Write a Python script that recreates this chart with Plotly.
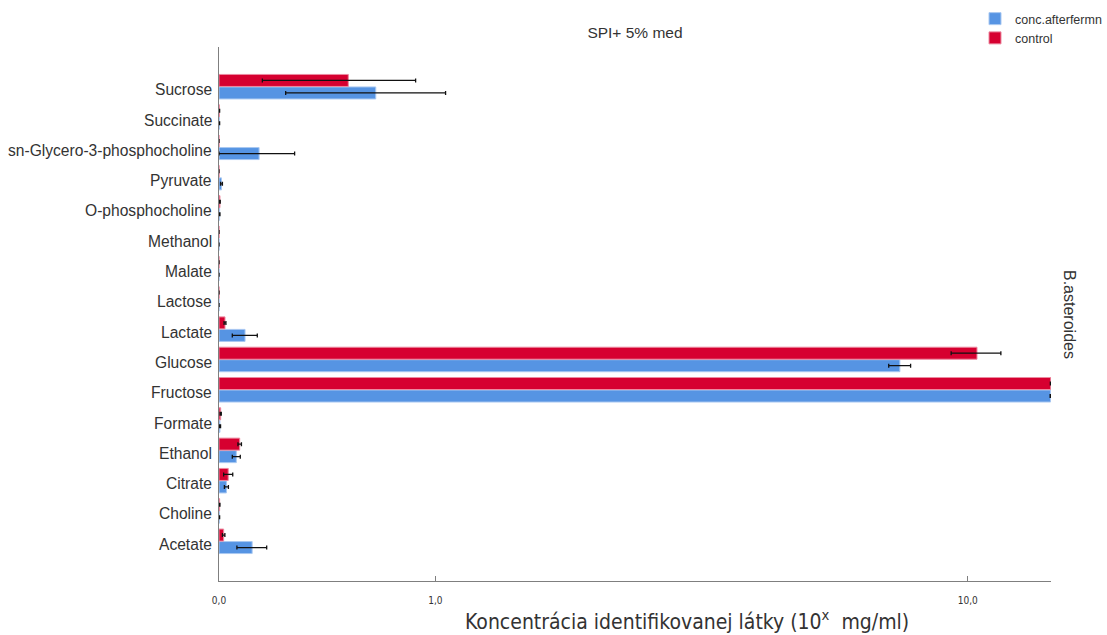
import math
import plotly.graph_objects as go

# Categories listed bottom -> top
categories = ["Acetate", "Choline", "Citrate", "Ethanol", "Formate", "Fructose",
              "Glucose", "Lactate", "Lactose", "Malate", "Methanol",
              "O-phosphocholine", "Pyruvate", "sn-Glycero-3-phosphocholine",
              "Succinate", "Sucrose"]

conc_after = [0.112, 0.001, 0.024, 0.057, 0.003, 13.34,
              7.85, 0.087, 0.0, 0.0, 0.0,
              0.002, 0.008, 0.137, 0.001, 0.652]
conc_after_err = [0.053, 0.001, 0.0066, 0.0135, 0.002, 0.02,
                  0.31, 0.0435, 0.0, 0.0, 0.0,
                  0.001, 0.003, 0.137, 0.001, 0.414]

control = [0.015, 0.002, 0.030, 0.0685, 0.0054, 13.35,
           10.33, 0.0194, 0.0, 0.0, 0.0,
           0.003, 0.0, 0.0, 0.001, 0.513]
control_err = [0.004, 0.001, 0.015, 0.006, 0.002, 0.02,
               0.9, 0.003, 0.0, 0.0, 0.0,
               0.001, 0.0, 0.0, 0.001, 0.364]

tick_values = [0.0, 1.0, 10.0]
tick_labels = ["0,0", "1,0", "10,0"]
x_max_value = 13.36


def tr(v):
    return math.log10(v + 1.0)


def errs(vals, es):
    plus, minus = [], []
    for v, e in zip(vals, es):
        plus.append(tr(v + e) - tr(v))
        minus.append(tr(v) - tr(max(v - e, 0.0)))
    return plus, minus


blue = "#5694E3"
red = "#D60030"

# plot area in page pixels
L, R, T, B = 219, 1051, 47, 581
W, H = 1107, 635


def px_x(p):
    return (p - L) / (R - L)


def px_y(p):
    return (B - p) / (B - T)


fig = go.Figure()
for name, vals, es, col, lcol in [
    ("conc.afterfermn", conc_after, conc_after_err, blue, "#A9C8F1"),
    ("control", control, control_err, red, "#EC8AA0"),
]:
    plus, minus = errs(vals, es)
    fig.add_trace(go.Bar(
        name=name,
        y=categories,
        x=[tr(v) for v in vals],
        orientation="h",
        marker=dict(color=col, line=dict(color=lcol, width=1)),
        error_x=dict(type="data", array=plus, arrayminus=minus, symmetric=False,
                     color="#111111", thickness=1.3, width=2),
    ))

fig.update_layout(
    width=W, height=635,
    margin=dict(l=L, r=W - R, t=T, b=H - B, autoexpand=False),
    paper_bgcolor="white", plot_bgcolor="white",
    barmode="group", bargap=0.175, bargroupgap=0.04,
    font=dict(family="Liberation Sans, Arial, sans-serif", color="#333333"),
    title=dict(text="SPI+ 5% med", x=(L + R) / 2 / W, xanchor="center",
               y=1 - 33 / H, yanchor="middle",
               font=dict(size=15.5, color="#333333")),
    showlegend=True,
    legend=dict(x=px_x(975), xanchor="left", y=px_y(4), yanchor="top",
                font=dict(size=12.5, color="#333333"), tracegroupgap=0,
                itemwidth=30, traceorder="normal", bgcolor="rgba(0,0,0,0)"),
)

fig.update_xaxes(
    range=[0, tr(x_max_value)],
    tickvals=[tr(v) for v in tick_values], ticktext=tick_labels,
    showgrid=False, zeroline=False,
    showline=True, linecolor="#7f7f7f", linewidth=1,
    ticks="inside", ticklen=5, tickcolor="#7f7f7f",
    ticklabelstandoff=10,
    tickfont=dict(family="Liberation Sans Narrow, DejaVu Sans Condensed, sans-serif",
                  size=10, color="#333333"),
)
fig.update_yaxes(
    type="category", categoryorder="array", categoryarray=categories,
    range=[-1.31, len(categories) - 1 + 1.31],
    showgrid=False, zeroline=False,
    showline=True, linecolor="#7f7f7f", linewidth=1,
    ticks="", showticklabels=False,
)

for c in categories:
    fig.add_annotation(
        text=c, xref="paper", yref="y", x=0, y=c,
        xanchor="right", yanchor="middle", xshift=-5, yshift=-3,
        showarrow=False, font=dict(size=15.6, color="#333333"),
    )

fig.add_annotation(
    text="Koncentrácia identifikovanej látky (10<sup>x</sup>  mg/ml)",
    xref="paper", yref="paper", x=px_x(687), y=px_y(620),
    xanchor="center", yanchor="middle", showarrow=False,
    font=dict(family="Liberation Sans Narrow, DejaVu Sans Condensed, sans-serif",
              size=21, color="#333333"),
)
fig.add_annotation(
    text="B.asteroides", textangle=90,
    xref="paper", yref="paper", x=px_x(1070), y=px_y(314),
    xanchor="center", yanchor="middle", showarrow=False,
    font=dict(size=16, color="#333333"),
)

fig.write_html("out.html")
